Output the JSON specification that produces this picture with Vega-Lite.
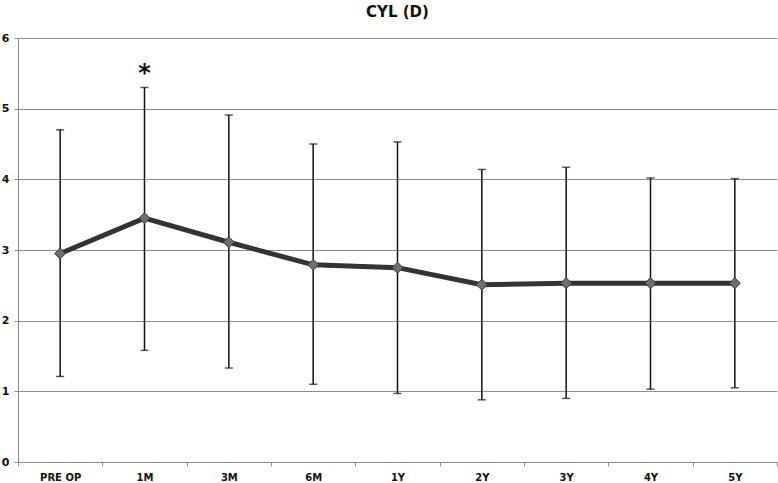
{
  "$schema": "https://vega.github.io/schema/vega-lite/v6.json",
  "width": 759,
  "height": 424,
  "autosize": {"type": "none"},
  "padding": {"left": 18, "top": 38, "right": 1, "bottom": 21},
  "title": {"text": "CYL (D)", "font": "DejaVu Sans", "fontSize": 15, "fontWeight": "bold", "color": "#111", "offset": 12, "anchor": "middle"},
  "config": {
    "view": {"stroke": null},
    "axis": {"labelFont": "DejaVu Sans", "labelFontWeight": "bold", "labelColor": "#111", "domainColor": "#8a8a8a", "tickColor": "#8a8a8a", "gridColor": "#8f8f8f", "title": null}
  },
  "data": {
    "values": [
      {"t": "PRE OP", "mean": 2.95, "lo": 1.21, "hi": 4.70, "star": null},
      {"t": "1M", "mean": 3.45, "lo": 1.58, "hi": 5.30, "star": 5.56},
      {"t": "3M", "mean": 3.11, "lo": 1.33, "hi": 4.91, "star": null},
      {"t": "6M", "mean": 2.79, "lo": 1.10, "hi": 4.50, "star": null},
      {"t": "1Y", "mean": 2.75, "lo": 0.97, "hi": 4.53, "star": null},
      {"t": "2Y", "mean": 2.51, "lo": 0.88, "hi": 4.14, "star": null},
      {"t": "3Y", "mean": 2.53, "lo": 0.90, "hi": 4.17, "star": null},
      {"t": "4Y", "mean": 2.53, "lo": 1.03, "hi": 4.02, "star": null},
      {"t": "5Y", "mean": 2.53, "lo": 1.05, "hi": 4.01, "star": null}
    ]
  },
  "encoding": {
    "x": {
      "field": "t", "type": "nominal",
      "sort": ["PRE OP", "1M", "3M", "6M", "1Y", "2Y", "3Y", "4Y", "5Y"],
      "scale": {"paddingInner": 0, "paddingOuter": 0},
      "axis": {"labelAngle": 0, "labelFontSize": 10, "tickBand": "extent", "tickSize": 4, "labelPadding": 6, "grid": false}
    }
  },
  "layer": [
    {
      "mark": {"type": "rule", "color": "#111", "strokeWidth": 1.5},
      "encoding": {
        "y": {"field": "lo", "type": "quantitative", "scale": {"domain": [0, 6]},
          "axis": {"values": [0, 1, 2, 3, 4, 5, 6], "format": "d", "labelFontSize": 11, "tickSize": 4, "labelPadding": 5, "grid": true}},
        "y2": {"field": "hi"}
      }
    },
    {
      "mark": {"type": "tick", "color": "#111", "thickness": 1.5, "size": 8},
      "encoding": {"y": {"field": "lo", "type": "quantitative"}}
    },
    {
      "mark": {"type": "tick", "color": "#111", "thickness": 1.5, "size": 8},
      "encoding": {"y": {"field": "hi", "type": "quantitative"}}
    },
    {
      "mark": {"type": "line", "color": "#333333", "strokeWidth": 5},
      "encoding": {"y": {"field": "mean", "type": "quantitative"}}
    },
    {
      "mark": {"type": "point", "shape": "diamond", "filled": true, "size": 120, "fill": "#6e6e6e", "stroke": "#3a3a3a", "strokeWidth": 1, "opacity": 1},
      "encoding": {"y": {"field": "mean", "type": "quantitative"}}
    },
    {
      "transform": [{"filter": "datum.star != null"}],
      "mark": {"type": "text", "text": "*", "font": "DejaVu Sans", "fontSize": 24, "fontWeight": "bold", "color": "#111", "baseline": "middle", "dy": 5},
      "encoding": {"y": {"field": "star", "type": "quantitative"}}
    }
  ]
}
